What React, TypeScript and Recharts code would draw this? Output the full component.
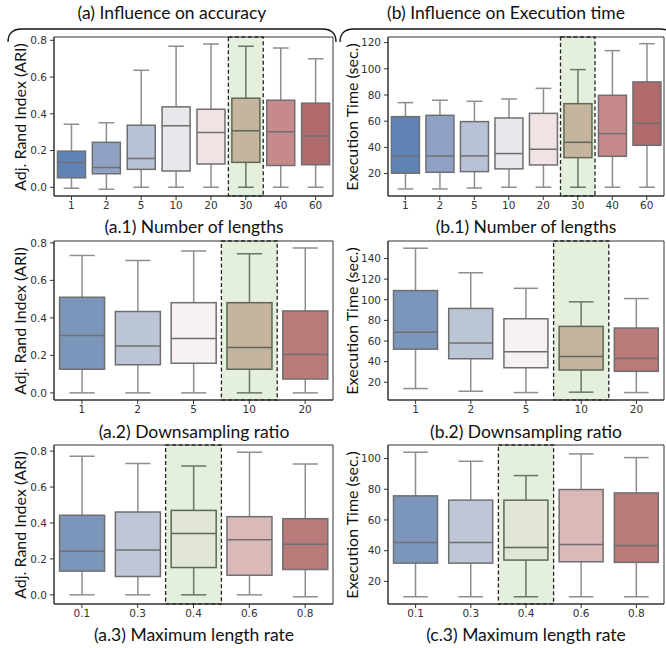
import React from 'react';
import { ComposedChart, Bar, XAxis, YAxis, ReferenceArea } from 'recharts';

const lengthCats = ['1', '2', '5', '10', '20', '30', '40', '60'];
const ratioCats = ['1', '2', '5', '10', '20'];
const rateCats = ['0.1', '0.3', '0.4', '0.6', '0.8'];

// each row: [low whisker, Q1, median, Q3, high whisker]
const ariByLengths = [
  [-0.005, 0.052, 0.135, 0.197, 0.344],
  [-0.01, 0.074, 0.108, 0.245, 0.351],
  [0.0, 0.098, 0.157, 0.338, 0.637],
  [0.0, 0.089, 0.335, 0.438, 0.767],
  [0.0, 0.127, 0.299, 0.425, 0.78],
  [0.0, 0.136, 0.308, 0.485, 0.767],
  [0.0, 0.119, 0.302, 0.474, 0.758],
  [0.0, 0.123, 0.279, 0.458, 0.7],
];
const timeByLengths = [
  [8.3, 20.3, 33.5, 63.5, 74.2],
  [8.3, 21, 33.5, 64.5, 76],
  [9, 21.5, 33.5, 59.7, 75.2],
  [9.6, 23.6, 35.3, 62.5, 77],
  [9.6, 26.6, 38.6, 66, 85.1],
  [9.6, 32.2, 43.9, 73.4, 99.4],
  [9.6, 33.2, 50.5, 79.8, 113.9],
  [9.6, 41.6, 58.4, 90, 119.2],
];
const ariByRatio = [
  [0, 0.126, 0.306, 0.51, 0.733],
  [0, 0.15, 0.25, 0.434, 0.706],
  [0, 0.158, 0.29, 0.481, 0.757],
  [0, 0.126, 0.242, 0.481, 0.742],
  [0, 0.074, 0.205, 0.437, 0.773],
];
const timeByRatio = [
  [13.9, 52.1, 68.5, 108.9, 150],
  [11.3, 42.8, 58.2, 91.6, 126.2],
  [10, 34.1, 49.5, 81.6, 111.1],
  [10.4, 31.9, 45, 74.2, 98],
  [10, 30.6, 43.1, 72.6, 101.2],
];
const ariByRate = [
  [0, 0.132, 0.243, 0.443, 0.772],
  [0, 0.102, 0.25, 0.461, 0.731],
  [0, 0.152, 0.341, 0.47, 0.717],
  [0, 0.109, 0.306, 0.435, 0.794],
  [-0.011, 0.141, 0.282, 0.424, 0.728],
];
const timeByRate = [
  [10, 31.9, 45.4, 75.7, 104.1],
  [10, 31.9, 45.4, 72.9, 98.2],
  [10, 33.9, 42.1, 72.9, 88.9],
  [10, 32.8, 44.1, 79.8, 103],
  [10, 32.4, 43.4, 77.6, 100.6],
];

const ariTicks = [0, 0.2, 0.4, 0.6, 0.8];
const timeTicks1 = [20, 40, 60, 80, 100, 120];
const timeTicks2 = [20, 40, 60, 80, 100, 120, 140];
const timeTicks3 = [20, 40, 60, 80, 100];

const lengthColors = ['#6083b6', '#8fa2c6', '#b8c2d6', '#e8e8ec', '#f1e2e3', '#c5b59f', '#c78a8c', '#b26b6d'];
const ratioColors = ['#7b95bb', '#bcc5d6', '#f7f2f1', '#c5b59f', '#b97a7a'];
const rateColors = ['#7c95bb', '#bfc6d7', '#e1e6d6', '#dbb9b9', '#b97a7a'];

const TEXT_FONT = 'Lato, "Open Sans", sans-serif';
const TICK = { fontFamily: '"DejaVu Sans", sans-serif', fontSize: 10.5, fill: '#333' };

const BoxShape = (props: any) => {
  const { x, y, width, height, payload } = props;
  if (!payload) return null;
  const [lo, q1, med, q3, hi] = payload.stats;
  const top = Math.min(y, y + height);
  const bot = Math.max(y, y + height);
  const py = (v: number) => bot - ((v - lo) / (hi - lo)) * (bot - top);
  const cx = x + width / 2;
  const cap = width * 0.28;
  const edge = payload.hl ? '#5d6858' : '#6f6f6f';
  const whisk = payload.hl ? '#6a7565' : '#8e8e8e';
  return (
    <g>
      <line x1={cx} x2={cx} y1={py(hi)} y2={py(q3)} stroke={whisk} strokeWidth={1.5} />
      <line x1={cx} x2={cx} y1={py(q1)} y2={py(lo)} stroke={whisk} strokeWidth={1.5} />
      <line x1={cx - cap} x2={cx + cap} y1={py(hi)} y2={py(hi)} stroke={whisk} strokeWidth={1.5} />
      <line x1={cx - cap} x2={cx + cap} y1={py(lo)} y2={py(lo)} stroke={whisk} strokeWidth={1.5} />
      <rect x={x} y={py(q3)} width={width} height={py(q1) - py(q3)} fill={payload.color} stroke={edge} strokeWidth={1.5} />
      <line x1={x} x2={x + width} y1={py(med)} y2={py(med)} stroke={edge} strokeWidth={1.5} />
    </g>
  );
};

const YW = 34;
const MT = 6;
const PLOT_H = 159;
const XH = 22;

function BoxPanel({ left, top, ml, width, mr, cats, stats, colors, highlight, domain, ticks, fmt }: any) {
  const rows = cats.map((c: string, i: number) => ({
    cat: c,
    range: [stats[i][0], stats[i][4]],
    stats: stats[i],
    color: colors[i],
    hl: c === highlight,
  }));
  return (
    <div style={{ position: 'absolute', left, top }}>
      <ComposedChart
        width={width}
        height={MT + PLOT_H + XH}
        data={rows}
        margin={{ top: MT, right: mr, bottom: 0, left: ml - YW }}
        barCategoryGap="10%"
      >
        <ReferenceArea
          x1={highlight}
          x2={highlight}
          y1={domain[0]}
          y2={domain[1]}
          fill="#e4efdc"
          fillOpacity={1}
          stroke="#222"
          strokeWidth={1.3}
          strokeDasharray="4 2.5"
        />
        <XAxis dataKey="cat" height={XH} tickSize={4} tickMargin={2} tick={TICK} stroke="#333" />
        <YAxis
          type="number"
          width={YW}
          domain={domain}
          ticks={ticks}
          allowDataOverflow
          tickSize={4}
          tickMargin={3}
          tick={TICK}
          stroke="#333"
          tickFormatter={fmt}
        />
        <Bar dataKey="range" shape={(p: any) => <BoxShape {...p} />} isAnimationActive={false} />
        <ReferenceArea y1={domain[0]} y2={domain[1]} fill="none" stroke="#333" strokeWidth={1} />
      </ComposedChart>
    </div>
  );
}

const ariFmt = (v: number) => v.toFixed(1);
const timeFmt = (v: number) => String(v);

function Label({ x, y, text, size, rotate }: any) {
  return (
    <div
      style={{
        position: 'absolute',
        left: x,
        top: y,
        transform: `translate(-50%, -50%)${rotate ? ' rotate(-90deg)' : ''}`,
        whiteSpace: 'nowrap',
        fontFamily: TEXT_FONT,
        fontSize: size,
        color: '#111',
        lineHeight: 1,
      }}
    >
      {text}
    </div>
  );
}

const rowTops = [37, 241, 445];

export default function App() {
  const L = { left: 0, ml: 54, width: 338, mr: 5 };
  const R = { left: 330, ml: 58, width: 336, mr: 2 };
  return (
    <div style={{ position: 'absolute', left: 0, top: 0, width: 666, height: 648, background: '#fff', overflow: 'hidden' }}>
      <svg width={666} height={648} style={{ position: 'absolute', left: 0, top: 0 }}>
        <path d="M 8 42 Q 8 29 22 29 L 322 29 Q 336 29 336 42" fill="none" stroke="#111" strokeWidth={1.3} />
        <path d="M 340 42 Q 340 29 354 29 L 660 29 Q 674 29 674 42" fill="none" stroke="#111" strokeWidth={1.3} />
      </svg>
      <Label x={172} y={13} text="(a) Influence on accuracy" size={17.5} />
      <Label x={506} y={13} text="(b) Influence on Execution time" size={17.5} />

      <BoxPanel {...L} top={rowTops[0] - MT} cats={lengthCats} stats={ariByLengths} colors={lengthColors} highlight="30" domain={[-0.047, 0.818]} ticks={ariTicks} fmt={ariFmt} />
      <BoxPanel {...R} top={rowTops[0] - MT} cats={lengthCats} stats={timeByLengths} colors={lengthColors} highlight="30" domain={[2.9, 124.3]} ticks={timeTicks1} fmt={timeFmt} />
      <BoxPanel {...L} top={rowTops[1] - MT} cats={ratioCats} stats={ariByRatio} colors={ratioColors} highlight="10" domain={[-0.038, 0.81]} ticks={ariTicks} fmt={ariFmt} />
      <BoxPanel {...R} top={rowTops[1] - MT} cats={ratioCats} stats={timeByRatio} colors={ratioColors} highlight="10" domain={[2.8, 157]} ticks={timeTicks2} fmt={timeFmt} />
      <BoxPanel {...L} top={rowTops[2] - MT} cats={rateCats} stats={ariByRate} colors={rateColors} highlight="0.4" domain={[-0.051, 0.834]} ticks={ariTicks} fmt={ariFmt} />
      <BoxPanel {...R} top={rowTops[2] - MT} cats={rateCats} stats={timeByRate} colors={rateColors} highlight="0.4" domain={[5.3, 108.8]} ticks={timeTicks3} fmt={timeFmt} />

      {rowTops.map((t) => (
        <React.Fragment key={t}>
          <Label x={20} y={t + PLOT_H / 2} text="Adj. Rand Index (ARI)" size={16} rotate />
          <Label x={352} y={t + PLOT_H / 2} text="Execution Time (sec.)" size={16} rotate />
        </React.Fragment>
      ))}
      <Label x={194} y={227} text="(a.1) Number of lengths" size={17.5} />
      <Label x={526} y={227} text="(b.1) Number of lengths" size={17.5} />
      <Label x={194} y={432} text="(a.2) Downsampling ratio" size={17.5} />
      <Label x={526} y={432} text="(b.2) Downsampling ratio" size={17.5} />
      <Label x={194} y={635} text="(a.3) Maximum length rate" size={17.5} />
      <Label x={526} y={635} text="(c.3) Maximum length rate" size={17.5} />
    </div>
  );
}
